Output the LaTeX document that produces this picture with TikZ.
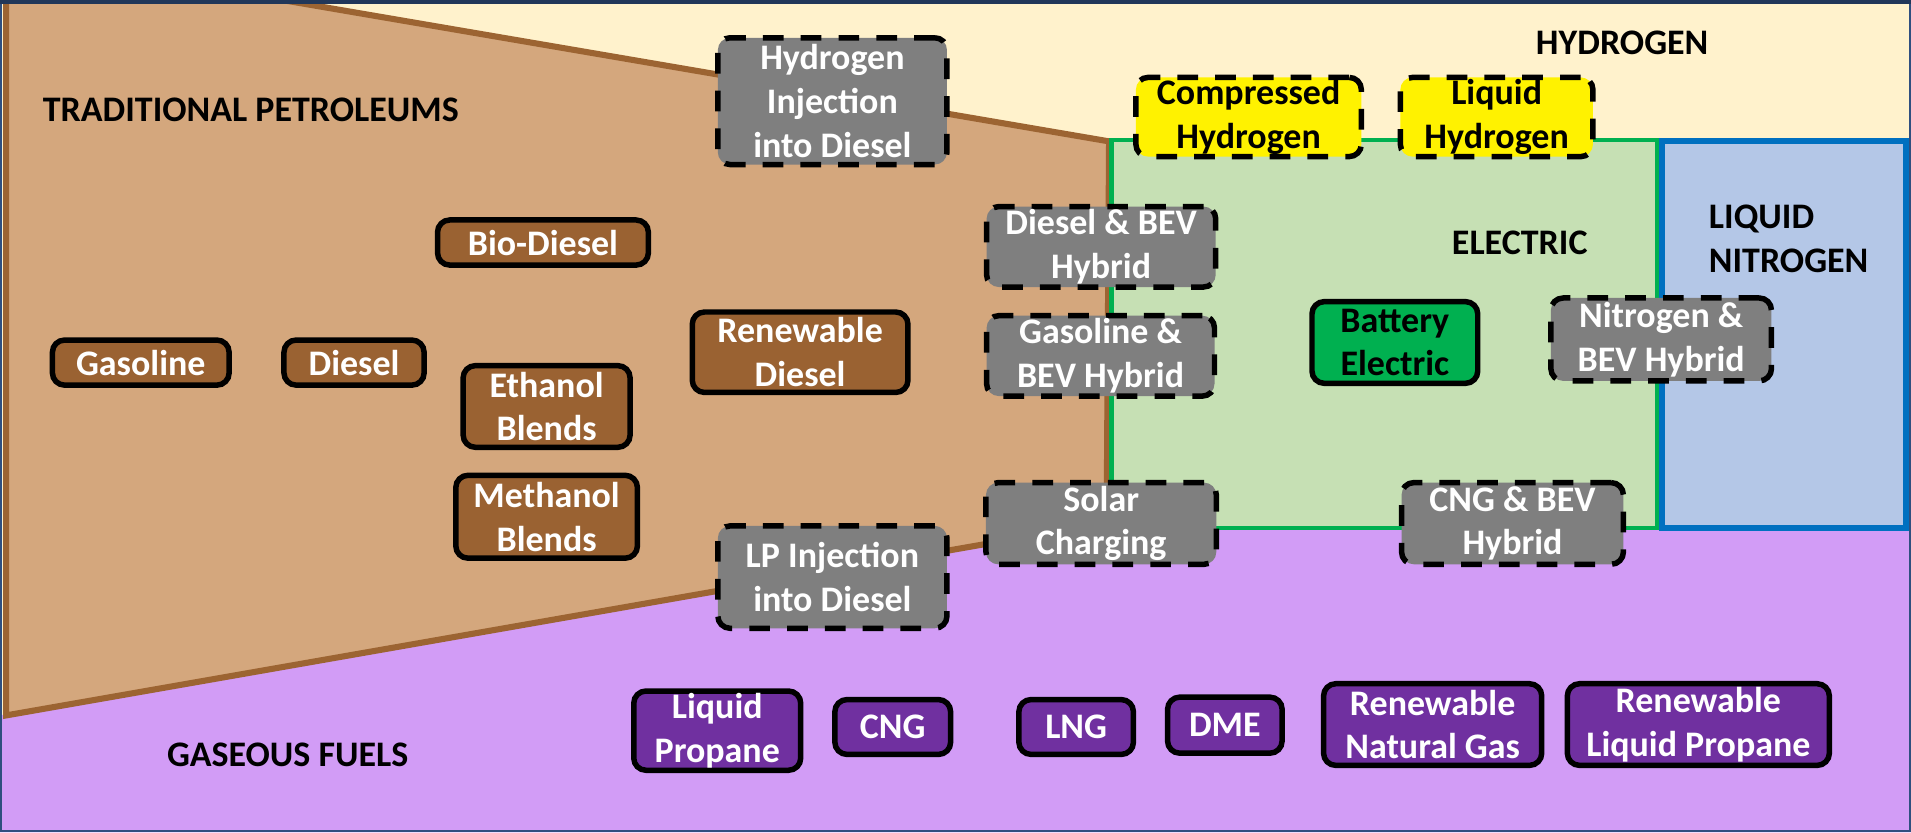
\documentclass[tikz,border=0pt]{standalone}
\usepackage{fontspec}
\setmainfont{Carlito}
\definecolor{cream}{HTML}{FFF2CC}
\definecolor{tan}{HTML}{D4A77D}
\definecolor{brownline}{HTML}{9C6432}
\definecolor{boxbrown}{HTML}{9A6232}
\definecolor{lilac}{HTML}{D29CF6}
\definecolor{elecgreen}{HTML}{C6E0B4}
\definecolor{greenline}{HTML}{00B050}
\definecolor{nitroblue}{HTML}{B4C7E7}
\definecolor{blueline}{HTML}{0070C0}
\definecolor{boxgray}{HTML}{7F7F7F}
\definecolor{boxpurple}{HTML}{7030A0}
\definecolor{framecol}{HTML}{2F4F7F}
\begin{document}
\begin{tikzpicture}[x=1pt,y=-1pt,
  every node/.style={font=\fontsize{29.5}{36}\selectfont\bfseries, align=center, inner sep=0pt},
  sz/.style 2 args={minimum width=#1pt, minimum height=#2pt},
  fbox/.style={draw=black, line width=4.5pt, rounded corners=10pt, text=white},
  brownbox/.style={fbox, fill=boxbrown},
  purplebox/.style={fbox, fill=boxpurple},
  greenbox/.style={fbox, fill=greenline, text=black},
  graybox/.style={fbox, fill=boxgray, dash pattern=on 17pt off 14pt},
  yellowbox/.style={fbox, fill=yellow, text=black, dash pattern=on 17pt off 14pt},
  region/.style={text=black}
]
\useasboundingbox (0,0) rectangle (1568,683);
% backgrounds
\fill[cream] (0,0) rectangle (1568,683);
\fill[lilac] (0,587) -- (908,429) -- (1568,429) -- (1568,683) -- (0,683) -- cycle;
\draw[brownline, line width=5pt, fill=tan, line join=miter]
  (5,-10) -- (173,-10) -- (910,116) -- (908,429) -- (5,587) -- cycle;
\draw[greenline, line width=3.5pt, fill=elecgreen] (912,115) rectangle (1360,433);
\draw[blueline, line width=5pt, fill=nitroblue] (1364,116) rectangle (1564,433);
% region labels
\node[region, anchor=west] (trad) at (35,90.5) {TRADITIONAL PETROLEUMS};
\node[region] (hyd) at (1331,35.5) {HYDROGEN};
\node[region] (elec) at (1247,199.5) {ELECTRIC};
\node[region, anchor=west, align=left] (nitro) at (1402,196) {LIQUID\\NITROGEN};
\node[region] (gas) at (236,619.5) {GASEOUS FUELS};
% brown boxes
\node[brownbox, sz={173}{37}] (biodiesel) at (445.5,199) {Bio-Diesel};
\node[brownbox, sz={145}{37}] (gasoline) at (115.5,297.5) {Gasoline};
\node[brownbox, sz={115}{37}] (diesel) at (290.5,297.5) {Diesel};
\node[brownbox, sz={137}{67}] (ethanol) at (448.5,333.5) {Ethanol\\Blends};
\node[brownbox, sz={149}{68}] (methanol) at (448.5,424) {Methanol\\Blends};
\node[brownbox, sz={177}{66}] (rdiesel) at (656.5,289) {Renewable\\Diesel};
% gray dashed boxes
\node[graybox, sz={188}{104}] (hinj) at (683,83) {Hydrogen\\Injection\\into Diesel};
\node[graybox, sz={188}{66}] (dbev) at (903.5,202.5) {Diesel \& BEV\\Hybrid};
\node[graybox, sz={187}{66}] (gbev) at (903,292) {Gasoline \&\\BEV Hybrid};
\node[graybox, sz={189}{67}] (solar) at (903.5,429.5) {Solar\\Charging};
\node[graybox, sz={188}{84}] (lpinj) at (683,473.5) {LP Injection\\into Diesel};
\node[graybox, sz={182}{67}] (cngbev) at (1241,429.5) {CNG \& BEV\\Hybrid};
\node[graybox, sz={181}{68}] (nbev) at (1363,278.5) {Nitrogen \&\\BEV Hybrid};
% yellow boxes
\node[yellowbox, sz={185}{65}] (ch) at (1024.5,96) {Compressed\\Hydrogen};
\node[yellowbox, sz={158}{65}] (lh) at (1228,96) {Liquid\\Hydrogen};
% green box
\node[greenbox, sz={136}{67}] (be) at (1144.5,281) {Battery\\Electric};
% purple boxes
\node[purplebox, sz={137}{65}] (lp) at (588.5,599.5) {Liquid\\Propane};
\node[purplebox, sz={95}{45}] (cng) at (732.5,596.5) {CNG};
\node[purplebox, sz={94}{45}] (lng) at (883,596.5) {LNG};
\node[purplebox, sz={94}{46}] (dme) at (1005,595) {DME};
\node[purplebox, sz={179}{67}] (rng) at (1175.5,594.5) {Renewable\\Natural Gas};
\node[purplebox, sz={215}{67}] (rlp) at (1393.5,594.5) {Renewable\\Liquid Propane};
% frame
\draw[framecol, line width=2pt] (1,1) rectangle (1567,682);
\draw[framecol!70!black, line width=3pt] (0,1.5) -- (1568,1.5);
\end{tikzpicture}
\end{document}
